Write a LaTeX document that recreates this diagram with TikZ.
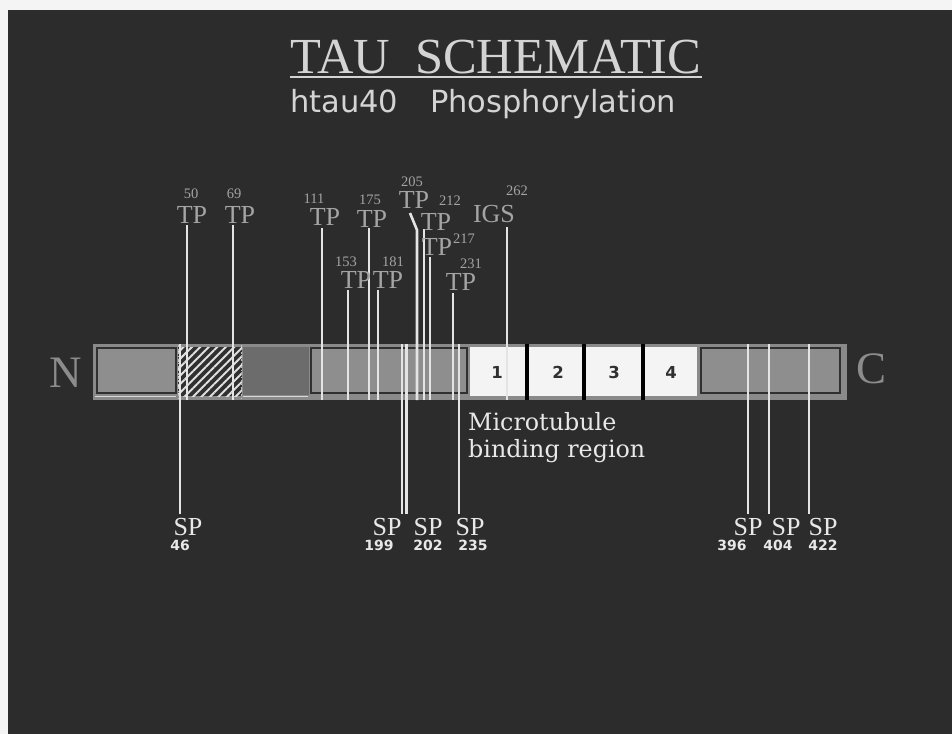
\documentclass[tikz,border=0pt]{standalone}
\usepackage{fontspec}
\setmainfont{Liberation Serif}
\newfontfamily\dvsans{DejaVu Sans}
\newfontfamily\dvserif{DejaVu Serif}
\usetikzlibrary{patterns.meta}
\definecolor{bg}{HTML}{2C2C2C}
\definecolor{paper}{HTML}{F4F4F4}
\definecolor{titlecol}{HTML}{D4D4D4}
\definecolor{tpgray}{HTML}{A4A4A4}
\definecolor{spwhite}{HTML}{E8E8E8}
\definecolor{linew}{HTML}{E4E4E4}
\definecolor{barframe}{HTML}{8A8A8A}
\definecolor{boxgray}{HTML}{8E8E8E}
\definecolor{midgray}{HTML}{6C6C6C}
\definecolor{boxedge}{HTML}{303030}
\definecolor{nccol}{HTML}{8C8C8C}
\definecolor{wboxcol}{HTML}{F4F4F4}
\tikzset{
  lab/.style={inner sep=0pt, anchor=base},
  tplab/.style={lab, text=tpgray, font=\fontsize{26}{26}\selectfont},
  tpnum/.style={lab, text=tpgray, font=\fontsize{14.5}{14.5}\selectfont},
  splab/.style={lab, text=spwhite, font=\fontsize{26}{26}\selectfont},
  spnum/.style={lab, text=spwhite, font=\dvsans\bfseries\fontsize{14}{14}\selectfont},
  vline/.style={draw=linew, line width=2.6pt},
  grbox/.style={fill=boxgray, draw=boxedge, line width=2.5pt},
  wbox/.style={fill=wboxcol},
  sepline/.style={draw=black, line width=3.5pt},
  boxnum/.style={lab, text=boxedge, font=\dvsans\bfseries\fontsize{16.5}{16.5}\selectfont},
}
\begin{document}
\begin{tikzpicture}[x=1pt,y=-1pt]
\useasboundingbox (0,0) rectangle (952,734);
\fill[paper] (0,0) rectangle (952,734);
\fill[bg] (8,10) rectangle (952,734);

% title
\node[lab, anchor=base west, text=titlecol, font=\fontsize{50.5}{50.5}\selectfont] (tau) at (290,73) {TAU};
\node[lab, anchor=base west, text=titlecol, font=\fontsize{50.5}{50.5}\selectfont] (schem) at (415,73) {SCHEMATIC};
\coordinate (ulA) at (290,76.5);
\coordinate (ulB) at (702,76.5);
\draw[titlecol, line width=2pt] (ulA) -- (ulB);
\node[lab, anchor=base west, text=titlecol, font=\dvsans\fontsize{30.5}{30.5}\selectfont] (htau) at (290,112) {htau40};
\node[lab, anchor=base west, text=titlecol, font=\dvsans\fontsize{30.5}{30.5}\selectfont] (phos) at (430,112) {Phosphorylation};

% bar
\fill[barframe] (93,344) rectangle (847,400);
\draw[grbox] (97,348) rectangle (176,393);
\fill[boxedge] (178,347) rectangle (242,396);
\fill[pattern={Lines[angle=45,distance=6pt,line width=2pt]}, pattern color=white!88!black] (178,347) rectangle (242,396);
\draw[white!75!black, dotted, line width=1.5pt] (178.5,345) -- (178.5,399);
\draw[white!75!black, dotted, line width=1.5pt] (241.5,345) -- (241.5,399);
\fill[midgray] (243,347) rectangle (309,395);
\draw[grbox] (311,348) rectangle (467,393);
\draw[white!85!black, line width=1.4pt] (95,396.5) -- (176,396.5);
\draw[white!85!black, line width=1.4pt] (243,396.5) -- (308,396.5);
\fill[wbox] (470,347) rectangle (525.5,396);
\fill[wbox] (529,347) rectangle (582,396);
\fill[wbox] (586,347) rectangle (641,396);
\fill[wbox] (645,347) rectangle (697,396);
\draw[sepline] (527,344) -- (527,400);
\draw[sepline] (584,344) -- (584,400);
\draw[sepline] (643,344) -- (643,400);
\draw[grbox] (701,348) rectangle (840,393);

\node[boxnum] (b1) at (497,378) {1};
\node[boxnum] (b2) at (558,378) {2};
\node[boxnum] (b3) at (614,378) {3};
\node[boxnum] (b4) at (671,378) {4};

% N and C
\node[lab, text=nccol, font=\fontsize{45}{45}\selectfont] (nterm) at (66,387) {N};
\node[lab, text=nccol, font=\fontsize{45}{45}\selectfont] (cterm) at (871,383) {C};

% top (TP) lines
\foreach \n/\x/\y in {50/187/225, 69/233/225, 111/322/228, 153/348/290, 175/369/228, 181/378/290, 212/424/229, 217/430/257, 231/453/293, 262/507/227}{
  \coordinate (tp\n top) at (\x,\y);
  \coordinate (tp\n bot) at (\x,400);
  \draw[vline] (tp\n top) -- (tp\n bot);
}
\coordinate (tp205top) at (410,213);
\coordinate (tp205bend) at (417,230);
\coordinate (tp205bot) at (417,400);
\draw[vline, line join=round] (tp205top) -- (tp205bend) -- (tp205bot);

% TP labels
\node[tplab] (TP50) at (192,223) {TP};   \node[tpnum] (n50) at (191,198) {50};
\node[tplab] (TP69) at (240,223) {TP};   \node[tpnum] (n69) at (234,198) {69};
\node[tplab] (TP111) at (325,225) {TP};  \node[tpnum] (n111) at (314,203) {111};
\node[tplab] (TP175) at (372,227) {TP};  \node[tpnum] (n175) at (370,204) {175};
\node[tplab] (TP205) at (414,208) {TP};  \node[tpnum] (n205) at (412,186) {205};
\node[tplab] (TP212) at (436,230) {TP};  \node[tpnum] (n212) at (450,205) {212};
\node[tplab] (TP217) at (437,255) {TP};  \node[tpnum] (n217) at (464,243) {217};
\node[tplab] (TP153) at (356,288) {TP};  \node[tpnum] (n153) at (346,266) {153};
\node[tplab] (TP181) at (388,288) {TP};  \node[tpnum] (n181) at (393,266) {181};
\node[tplab] (TP231) at (461,290) {TP};  \node[tpnum] (n231) at (471,268) {231};
\node[tplab] (IGS) at (494,222) {IGS};   \node[tpnum] (n262) at (517,195) {262};

% bottom (SP) lines
\foreach \n/\x in {46/180, 199/402, 202/406.5, 235/459, 396/748, 404/769, 422/809}{
  \coordinate (sp\n top) at (\x,344);
  \coordinate (sp\n bot) at (\x,514);
  \draw[vline] (sp\n top) -- (sp\n bot);
}

% SP labels
\node[splab] (SP46) at (188,535) {SP};   \node[spnum] (m46) at (180,550) {46};
\node[splab] (SP199) at (387,535) {SP};  \node[spnum] (m199) at (379,550) {199};
\node[splab] (SP202) at (428,535) {SP};  \node[spnum] (m202) at (428,550) {202};
\node[splab] (SP235) at (470,535) {SP};  \node[spnum] (m235) at (473,550) {235};
\node[splab] (SP396) at (748,535) {SP};  \node[spnum] (m396) at (732,550) {396};
\node[splab] (SP404) at (786,535) {SP};  \node[spnum] (m404) at (778,550) {404};
\node[splab] (SP422) at (823,535) {SP};  \node[spnum] (m422) at (823,550) {422};

% microtubule binding region
\node[lab, anchor=base west, text=spwhite, font=\dvserif\fontsize{23.8}{23.8}\selectfont] (mtb1) at (468,430) {Microtubule};
\node[lab, anchor=base west, text=spwhite, font=\dvserif\fontsize{23.8}{23.8}\selectfont] (mtb2) at (468,457) {binding region};
\end{tikzpicture}
\end{document}
